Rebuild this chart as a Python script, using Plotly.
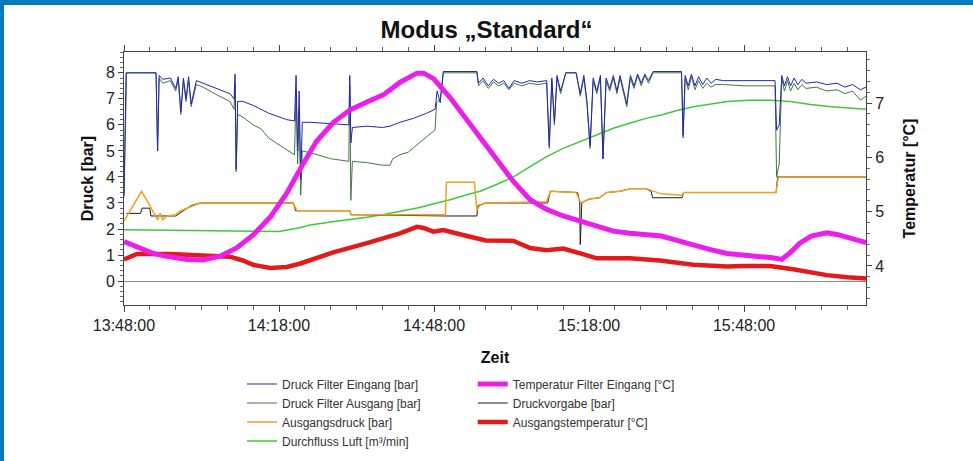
import pandas as pd
import plotly.graph_objects as go

BASE = pd.Timestamp("2023-01-01 13:48:00")

# ---- data (minutes after 13:48:00) ----
t_eingang = [0, 0.4, 6.2, 6.5, 6.8, 7.5, 9, 10, 10.5, 11, 11.5, 12, 12.5, 13, 14, 15.3, 18, 20.5, 21.3, 21.5, 21.7, 22,
             23, 25, 28, 31.5, 33, 33.3, 33.6, 33.9, 34.2, 34.5, 36, 40.5, 43.5, 43.7, 43.9, 44.2, 47, 50, 51.5, 53.4,
             56, 58.6, 60.2, 60.6, 61.2, 61.8, 68.3, 68.6, 69.5, 70.5, 71.5, 72.5, 73.5, 74.5, 75.5, 77, 78.5, 80,
             81.8, 82.3, 82.8, 83.3, 83.8, 84.5, 85.5, 87.5, 88.3, 89, 89.6, 90.2, 90.8, 91.5, 92.2, 92.7, 93.3, 94,
             94.7, 95.4, 96, 96.6, 97.3, 98, 98.7, 99.4, 100.1, 100.8, 101.5, 102.4, 107.9, 108.2, 108.6, 109.2,
             109.8, 110.5, 111.2, 112, 112.8, 113.6, 114.5, 116, 120, 126, 126.3, 126.8, 127.3, 127.8, 128.4, 129,
             129.7, 130.4, 131.2, 132, 134, 136, 138, 139.5, 141, 142.5, 143.6]
druck_eingang = [3.3, 8.0, 8.0, 5.0, 7.9, 7.75, 7.8, 7.4, 7.85, 6.5, 7.8, 7.0, 7.85, 6.8, 7.7, 7.6, 7.4, 7.2, 7.0, 7.95,
                 4.3, 6.9, 6.9, 6.75, 6.45, 6.2, 6.15, 7.9, 5.0, 7.3, 3.9, 6.1, 6.1, 6.05, 6.0, 7.9, 5.3, 5.9, 5.95,
                 5.9, 5.95, 6.1, 6.25, 6.45, 6.6, 7.3, 6.85, 8.05, 8.05, 7.6, 7.8, 7.5, 7.75, 7.6, 7.7, 7.4, 7.7, 7.6,
                 7.7, 7.65, 7.7, 5.2, 7.8, 6.1, 7.9, 7.3, 8.0, 8.0, 7.2, 7.9, 6.9, 5.2, 7.8, 7.3, 7.9, 4.7, 7.8, 7.4,
                 7.9, 7.3, 7.9, 7.4, 6.8, 7.9, 7.5, 7.95, 7.6, 7.95, 7.7, 8.05, 8.05, 5.6, 7.9, 7.5, 7.95, 7.5, 7.85,
                 7.55, 7.8, 7.6, 7.75, 7.7, 7.7, 7.7, 5.8, 6.0, 7.9, 7.5, 7.85, 7.5, 7.8, 7.55, 7.75, 7.6, 7.65, 7.55,
                 7.6, 7.45, 7.55, 7.35, 7.45]

t_ausgang = [0, 0.5, 6.2, 6.5, 6.8, 7.5, 9, 10, 10.5, 11, 11.5, 12, 12.5, 13, 14, 15.3, 18, 20.5, 21.3, 21.5, 21.7, 22,
             23, 25, 26.5, 28, 29.5, 31.5, 33, 33.3, 33.6, 33.9, 34.2, 34.5, 36.6, 40, 43.5, 43.7, 43.9, 44.2, 47, 50,
             51.5, 52, 53.4, 55, 56.7, 58.6, 60.2, 60.5, 61.2, 61.8, 68.3, 68.6, 69.5, 70.5, 71.5, 72.5, 73.5, 74.5,
             75.5, 77, 78.5, 80, 81.8, 82.3, 82.8, 83.3, 83.8, 84.5, 85.5, 87.5, 88.3, 89, 89.6, 90.2, 90.8, 91.5,
             92.2, 92.7, 93.3, 94, 94.7, 95.4, 96, 96.6, 97.3, 98, 98.7, 99.4, 100.1, 100.8, 101.5, 102.4, 107.9,
             108.2, 108.6, 109.2, 109.8, 110.5, 111.2, 112, 112.8, 113.6, 114.5, 116, 120, 126, 126.3, 126.8, 127.3,
             127.8, 128.4, 129, 129.7, 130.4, 131.2, 132, 134, 136, 138, 139.5, 141, 142.5, 143.6]
druck_ausgang = [3.2, 8.0, 8.0, 5.0, 7.8, 7.6, 7.7, 7.3, 7.75, 6.4, 7.7, 6.9, 7.7, 6.7, 7.55, 7.45, 7.15, 6.9, 6.6, 7.6,
                 4.2, 6.4, 6.3, 6.0, 5.85, 5.5, 5.3, 5.05, 4.85, 7.3, 4.5, 6.5, 3.3, 5.0, 4.9, 4.7, 4.6, 7.5, 3.1, 4.6,
                 4.55, 4.45, 4.45, 4.7, 4.85, 4.95, 5.25, 5.55, 5.8, 6.85, 7.0, 8.0, 8.0, 7.5, 7.7, 7.4, 7.65, 7.5, 7.6,
                 7.35, 7.6, 7.5, 7.6, 7.55, 7.6, 5.1, 7.7, 6.0, 7.8, 7.2, 8.0, 8.0, 7.1, 7.8, 6.8, 5.1, 7.7, 7.2, 7.8,
                 4.7, 7.7, 7.3, 7.8, 7.2, 7.8, 7.3, 6.7, 7.8, 7.4, 7.9, 7.5, 7.9, 7.6, 8.0, 8.0, 5.5, 7.8, 7.35, 7.85,
                 7.35, 7.7, 7.4, 7.6, 7.45, 7.55, 7.55, 7.5, 7.5, 4.0, 4.5, 7.8, 7.3, 7.7, 7.3, 7.6, 7.35, 7.55, 7.4,
                 7.45, 7.3, 7.35, 7.2, 7.3, 6.95, 7.1]

t_ausgangsdruck = [0, 1.5, 3.4, 5, 6.2, 6.5, 7, 7.5, 8.3, 10, 11, 12.7, 14.7, 22, 32.7, 33.5, 43.7, 44, 62.2, 62.4,
                   67.8, 68.3, 68.8, 70, 81.8, 82.5, 87.5, 88.4, 89, 90, 92, 93.4, 96, 98, 101, 102.4, 104, 108, 108.3,
                   126.2, 126.6, 127, 143.6]
ausgangsdruck = [2.3, 2.8, 3.45, 2.9, 2.5, 2.35, 2.6, 2.35, 2.5, 2.55, 2.7, 2.85, 3.0, 3.0, 3.0, 2.7, 2.7, 2.55, 2.55,
                 3.8, 3.8, 2.7, 2.9, 3.0, 3.05, 3.45, 3.4, 3.0, 3.05, 3.15, 3.2, 3.4, 3.45, 3.55, 3.55, 3.45, 3.35,
                 3.3, 3.4, 3.4, 3.95, 4.0, 4.0]

t_vorgabe = [0.5, 3.2, 3.5, 5, 5.2, 10, 13, 14.7, 32.8, 33.2, 43.7, 43.9, 62.3, 68.3, 68.5, 70, 82, 82.5, 87.8, 88.2,
             88.3, 88.6, 90, 92, 93.4, 96, 98, 101, 102, 102.3, 108, 108.3, 126.2, 126.5, 143.6]
druckvorgabe = [2.6, 2.6, 2.8, 2.8, 2.5, 2.5, 2.9, 3.0, 3.0, 2.7, 2.7, 2.55, 2.5, 2.5, 2.9, 3.0, 3.0, 3.45, 3.4, 3.0,
                1.4, 3.0, 3.15, 3.2, 3.4, 3.45, 3.55, 3.55, 3.45, 3.2, 3.2, 3.4, 3.4, 4.0, 4.0]

t_durchfluss = [0, 10, 20, 30, 34, 36, 40, 43.7, 47, 50, 53.4, 57, 60, 63.1, 66, 68.9, 72, 75.4, 78.6, 81.8, 85, 88.3,
                91.5, 94.7, 98, 101.2, 104, 107, 110.2, 113.5, 116.7, 121, 125, 129, 132.8, 137, 140, 143.6]
durchfluss_luft = [1.97, 1.95, 1.92, 1.9, 2.05, 2.15, 2.27, 2.35, 2.45, 2.55, 2.67, 2.82, 2.97, 3.12, 3.3, 3.45, 3.7,
                   4.0, 4.4, 4.78, 5.1, 5.36, 5.62, 5.87, 6.07, 6.26, 6.38, 6.55, 6.7, 6.8, 6.9, 6.95, 6.95, 6.9,
                   6.78, 6.7, 6.65, 6.6]

t_temp_filter = [0, 2, 5.6, 8, 12.2, 15.3, 18.6, 21.8, 25, 28.3, 31.5, 34.6, 37.3, 40.5, 43.7, 47, 50.2, 53.4, 56.7,
                 58, 59.9, 63.1, 66.4, 69.5, 72.1, 75.4, 78.6, 81.8, 85, 88.3, 91.5, 94.7, 97.9, 101.2, 104, 107,
                 110.2, 113.5, 116.7, 120, 123.1, 125.5, 127.3, 129, 130.8, 133, 136, 138, 140, 142, 143.6]
temp_filter_eingang = [4.45, 4.38, 4.23, 4.18, 4.12, 4.11, 4.18, 4.33, 4.57, 4.9, 5.34, 5.87, 6.3, 6.64, 6.87, 7.02,
                       7.15, 7.38, 7.55, 7.55, 7.45, 7.1, 6.69, 6.3, 5.98, 5.55, 5.22, 5.04, 4.92, 4.82, 4.73, 4.64,
                       4.6, 4.57, 4.55, 4.47, 4.38, 4.3, 4.23, 4.19, 4.17, 4.15, 4.12, 4.25, 4.42, 4.55, 4.61, 4.58,
                       4.53, 4.47, 4.43]

t_temp_aus = [0, 2.5, 8.9, 15.3, 20.5, 23, 25, 28.3, 31.5, 34, 36, 40.5, 47, 53.4, 56.7, 58, 59.9, 61.8, 66.4, 70,
              75.4, 78.6, 81.8, 85, 88.3, 91.5, 97.9, 103.7, 110.2, 116.7, 120, 125, 129.5, 133, 136, 140, 143.6]
ausgangstemperatur = [4.12, 4.22, 4.22, 4.2, 4.17, 4.1, 4.02, 3.96, 3.98, 4.04, 4.1, 4.25, 4.42, 4.6, 4.72, 4.7,
                      4.63, 4.66, 4.55, 4.47, 4.46, 4.33, 4.29, 4.32, 4.23, 4.14, 4.14, 4.1, 4.02, 3.99, 4.0, 4.0,
                      3.94, 3.87, 3.83, 3.79, 3.77]

x_tick_minutes = [0, 30, 60, 90, 120]
x_tick_labels = ["13:48:00", "14:18:00", "14:48:00", "15:18:00", "15:48:00"]
y_left_ticks = [0, 1, 2, 3, 4, 5, 6, 7, 8]
y_right_ticks = [4, 5, 6, 7]


def to_time(minutes):
    return [BASE + pd.Timedelta(minutes=m) for m in minutes]


FONT = "Liberation Sans, Arial, sans-serif"

fig = go.Figure()

series = [
    # name, t, y, color, width, axis, legend, rank
    ("Durchfluss Luft [m³/min]", t_durchfluss, durchfluss_luft, "#3ec83e", 1.5, "y", "legend", 4),
    ("Druckvorgabe [bar]", t_vorgabe, druckvorgabe, "#1a1a1a", 1, "y", "legend2", 2),
    ("Ausgangsdruck [bar]", t_ausgangsdruck, ausgangsdruck, "#f0a024", 1.5, "y", "legend", 3),
    ("Druck Filter Ausgang [bar]", t_ausgang, druck_ausgang, "#3f7a3f", 1, "y", "legend", 2),
    ("Druck Filter Eingang [bar]", t_eingang, druck_eingang, "#2626b0", 1, "y", "legend", 1),
    ("Ausgangstemperatur [°C]", t_temp_aus, ausgangstemperatur, "#e41a1a", 4.5, "y2", "legend2", 3),
    ("Temperatur Filter Eingang [°C]", t_temp_filter, temp_filter_eingang, "#ec1eec", 5, "y2", "legend2", 1),
]

for name, t, y, color, width, axis, leg, rank in series:
    fig.add_trace(go.Scatter(
        x=to_time(t), y=y, name=name, mode="lines", yaxis=axis,
        line=dict(color=color, width=width), legend=leg, legendrank=rank,
    ))

fig.update_layout(
    width=973, height=461,
    margin=dict(l=124, r=107, t=52, b=156, autoexpand=False),
    paper_bgcolor="white", plot_bgcolor="white",
    font=dict(family=FONT, color="#222", size=15),
    title=dict(text="<b>Modus „Standard“</b>", x=0.5, xref="container", xanchor="center",
               y=1 - 30 / 461, yref="container", yanchor="middle", automargin=False,
               font=dict(family=FONT, size=24, color="#111")),
    xaxis=dict(
        range=[BASE, BASE + pd.Timedelta(minutes=143.6)], automargin=False,
        tickmode="array", tickvals=to_time(x_tick_minutes), ticktext=x_tick_labels,
        showline=True, linecolor="#444", linewidth=1, mirror="ticks",
        ticks="outside", ticklen=6, tickcolor="#444",
        minor=dict(tickmode="linear", tick0=BASE, dtick=300000, ticks="outside", ticklen=4, tickcolor="#666"),
        showgrid=False, zeroline=False,
        tickfont=dict(size=16, color="#222"),
        title=dict(text="<b>Zeit</b>", font=dict(size=16, color="#111"), standoff=18),
    ),
    yaxis=dict(
        range=[-0.92, 8.8], tickmode="array", tickvals=y_left_ticks, automargin=False,
        showline=True, linecolor="#444", linewidth=1,
        ticks="outside", ticklen=5, tickcolor="#444",
        minor=dict(tickmode="linear", tick0=0, dtick=0.2, ticks="outside", ticklen=3, tickcolor="#666"),
        showgrid=False, zeroline=True, zerolinecolor="#888", zerolinewidth=1,
        tickfont=dict(size=16, color="#222"),
        title=dict(text="<b>Druck [bar]</b>", font=dict(size=16, color="#111"), standoff=8),
    ),
    yaxis2=dict(
        range=[3.28, 7.94], overlaying="y", side="right", tickmode="array", tickvals=y_right_ticks,
        automargin=False,
        showline=True, linecolor="#444", linewidth=1,
        ticks="outside", ticklen=5, tickcolor="#444",
        minor=dict(tickmode="linear", tick0=4, dtick=0.2, ticks="outside", ticklen=3, tickcolor="#666"),
        showgrid=False, zeroline=False,
        tickfont=dict(size=16, color="#222"),
        title=dict(text="<b>Temperatur [°C]</b>", font=dict(size=16, color="#111"), standoff=20),
    ),
    legend=dict(x=0.159, y=-0.255, xanchor="left", yanchor="top", orientation="v",
                bgcolor="rgba(0,0,0,0)", font=dict(size=12, color="#333"), itemwidth=30,
                tracegroupgap=0),
    legend2=dict(x=0.47, y=-0.255, xanchor="left", yanchor="top", orientation="v",
                 bgcolor="rgba(0,0,0,0)", font=dict(size=12, color="#333"), itemwidth=30,
                 tracegroupgap=0),
    showlegend=True,
    shapes=[
        dict(type="rect", xref="paper", yref="paper", x0=-0.2, x1=(4 - 124) / 742, y0=-1, y1=2,
             fillcolor="#0079bf", line=dict(width=0), layer="above"),
        dict(type="rect", xref="paper", yref="paper", x0=-0.2, x1=1.3, y0=(305 - 5) / 253, y1=1.4,
             fillcolor="#0079bf", line=dict(width=0), layer="above"),
    ],
)

fig.write_html("out.html", config={"displayModeBar": False},
               post_script="document.body.style.margin='0px';")
